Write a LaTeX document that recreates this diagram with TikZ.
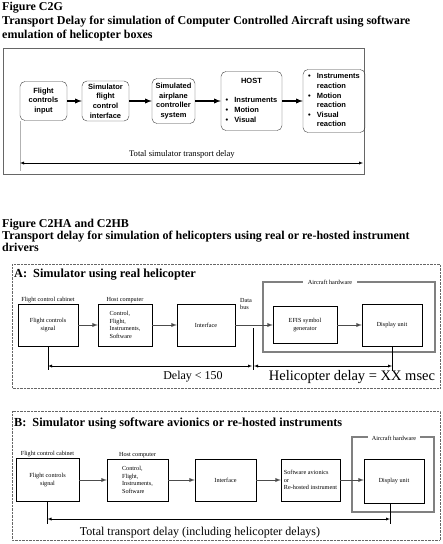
\documentclass[tikz,border=0pt]{standalone}
\usepackage{fontspec}
\setmainfont{Liberation Serif}
\setsansfont{Liberation Sans}
\usepackage{tikz}
\usetikzlibrary{positioning}

\begin{document}
\begin{tikzpicture}[x=1pt,y=-1pt]
        \tikzstyle{rb} = [draw=black!75, rounded corners=5pt, align=center, inner sep=1pt, font=\sffamily\bfseries\fontsize{7.5}{9.6}\selectfont]
        \tikzstyle{b} = [draw, thin, align=center, inner sep=1pt, font=\fontsize{6.2}{7.5}\selectfont]
        \tikzstyle{lab} = [inner sep=1pt, font=\fontsize{6.2}{7.5}\selectfont]
        \tikzstyle{ta} = [line width=1.3pt, -latex]
        \tikzstyle{e} = [line width=0.9pt, black!70, -latex]
        \tikzstyle{d} = [thin, latex-latex]
        \tikzstyle{hw} = [line width=0.7pt, double=black!50, double distance=1.2pt]
        \tikzstyle{fr} = [densely dotted, black!60]
        \useasboundingbox (0,0) rectangle (443,544);

        % headings
        \node[anchor=north west, align=left, inner sep=0pt, font=\bfseries\fontsize{12}{14}\selectfont](h1) at (2,2){Figure C2G\\Transport Delay for simulation of Computer Controlled Aircraft using software\\emulation of helicopter boxes};
        \node[anchor=north west, align=left, inner sep=0pt, font=\bfseries\fontsize{12}{12}\selectfont](h2) at (2,219){Figure C2HA and C2HB\\Transport delay for simulation of helicopters using real or re-hosted instrument\\drivers};

        % C2G
        \draw[black!60] (3,48) rectangle (364,174);
        \node[rb, minimum width=47pt, minimum height=39pt](t1) at (43.5,101){Flight\\controls\\input};
        \node[rb, minimum width=47pt, minimum height=40pt](t2) at (105.5,101){Simulator\\flight\\control\\interface};
        \node[rb, minimum width=43pt, minimum height=45pt](t3) at (173.5,101){Simulated\\airplane\\controller\\system};
        \node[rb, minimum width=61pt, minimum height=59pt](t4) at (251.5,101){\begin{tabular}{@{}l@{\hspace{6pt}}l@{}}\multicolumn{2}{c}{HOST}\\[9.5pt]\textbullet&Instruments\\\textbullet&Motion\\\textbullet&Visual\end{tabular}};
        \node[rb, minimum width=62pt, minimum height=63pt](t5) at (334,101){\begin{tabular}{@{}l@{\hspace{6pt}}l@{}}\textbullet&Instruments\\&reaction\\\textbullet&Motion\\&reaction\\\textbullet&Visual\\&reaction\end{tabular}};
        \draw[ta](t1)--(t2);
        \draw[ta](t2)--(t3);
        \draw[ta](t3)--(t4);
        \draw[ta](t4)--(t5);
        \coordinate(tl) at (20,163);
        \coordinate(tr) at (363,163);
        \draw[black!30](t1.south west)--++(0,50);
        \draw[d](tl)-- node[pos=0.472, above=1pt, font=\fontsize{8.6}{9}\selectfont]{Total simulator transport delay} (tr);

        % A
        \draw[fr] (12,264) rectangle (440,388);
        \node[anchor=west, inner sep=0pt, font=\bfseries\fontsize{12.3}{13}\selectfont](ta) at (14,275){A:\hspace{6pt}Simulator using real helicopter};
        \draw[hw] (263,282) rectangle (435,352);
        \node[lab, fill=white, inner xsep=5pt](hwa) at (330,282){Aircraft hardware};
        \node[b, minimum width=60pt, minimum height=42pt](a1) at (48,325){Flight controls\\signal};
        \node[b, align=left, minimum width=54pt, minimum height=42pt](a2) at (125,325){Control,\\Flight,\\Instruments,\\Software};
        \node[b, minimum width=58pt, minimum height=42pt](a3) at (206,325){Interface};
        \node[b, minimum width=64pt, minimum height=37pt](a4) at (305,325){EFIS symbol\\generator};
        \node[b, minimum width=60pt, minimum height=42pt](a5) at (392,325){Display unit};
        \node[lab, above=0pt of a1](ca){Flight control cabinet};
        \node[lab, above=0pt of a2](cb){Host computer};
        \node[lab, align=left, anchor=north west](bus) at (239,297){Data\\bus};
        \draw[e](a1)--(a2);
        \draw[e](a2)--(a3);
        \draw[e](a3)--(a4);
        \draw[e](a4)--(a5);
        \coordinate(bt) at (253,328);
        \coordinate(bb) at (253,370);
        \coordinate(da) at (253,366);
        \draw[thin](bt)--(bb);
        \draw[thin](a1.south)--++(0,24);
        \draw[thin](a5.south)--++(0,25);
        \draw[d](a1.south |- da)--([xshift=-1pt]da);
        \draw[d]([xshift=1pt]da)--(a5.south |- da);
        \node[font=\fontsize{12}{12}\selectfont](dl) at (193,377){Delay \textless{} 150};
        \node[font=\fontsize{14.5}{14.5}\selectfont](hd) at (352,377){Helicopter delay = XX msec};

        % B
        \draw[fr] (12,411) rectangle (440,540);
        \node[anchor=west, inner sep=0pt, font=\bfseries\fontsize{12.3}{13}\selectfont](tb) at (14,424){B:\hspace{6pt}Simulator using software avionics or re-hosted instruments};
        \draw[hw] (352,437) rectangle (434,512);
        \node[lab, fill=white, inner xsep=4pt](hwb) at (394,438){Aircraft hardware};
        \node[b, minimum width=63pt, minimum height=43pt](b1) at (47.5,480){Flight controls\\signal};
        \node[b, align=left, minimum width=61pt, minimum height=42pt](b2) at (137.5,480){Control,\\Flight,\\Instruments,\\Software};
        \node[b, minimum width=61pt, minimum height=42pt](b3) at (225.5,480){Interface};
        \node[b, align=left, minimum width=59pt, minimum height=42pt](b4) at (310.5,480){Software avionics\\or\\Re-hosted instrument};
        \node[b, minimum width=60pt, minimum height=44pt](b5) at (394,481){Display unit};
        \node[lab, above=0pt of b1](cc){Flight control cabinet};
        \node[lab, above=0pt of b2](cd){Host computer};
        \draw[e](b1)--(b2);
        \draw[e](b2)--(b3);
        \draw[e](b3)--(b4);
        \draw[e](b4.east)--(b5.west |- b4.east);
        \coordinate(db) at (390,519);
        \draw[thin](b1.south)--++(0,22);
        \draw[thin](db |- b5.south)--++(0,21);
        \draw[d](b1.south |- db)--(db);
        \node[font=\fontsize{12}{12}\selectfont](tt) at (200,533){Total transport delay (including helicopter delays)};
    \end{tikzpicture}
\end{document}
